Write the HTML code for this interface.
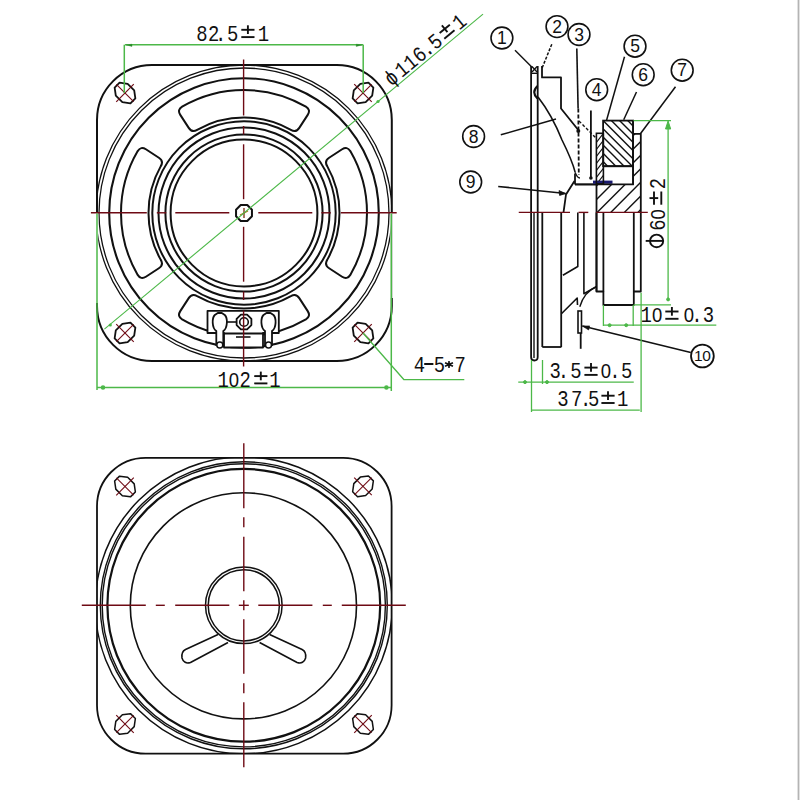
<!DOCTYPE html>
<html><head><meta charset="utf-8"><style>
html,body{margin:0;padding:0;background:#fff;}
svg{display:block;}
text{font-family:"Liberation Mono",monospace;}
</style></head><body>
<svg width="800" height="800" viewBox="0 0 800 800">
<rect width="800" height="800" fill="#fff"/>
<rect x="797.6" y="0" width="1.8" height="800" fill="#b4b4b4"/>
<path d="M152,65 H336.8 A55,55 0 0 1 391.8,120 V306 A55,55 0 0 1 336.8,361 H152 A55,55 0 0 1 97,306 V120 A55,55 0 0 1 152,65 Z" stroke="#111" stroke-width="2.0" fill="none" stroke-linejoin="round" />
<clipPath id="fr1"><path d="M152,65 H336.8 A55,55 0 0 1 391.8,120 V306 A55,55 0 0 1 336.8,361 H152 A55,55 0 0 1 97,306 V120 A55,55 0 0 1 152,65 Z"/></clipPath>
<g clip-path="url(#fr1)">
<circle cx="244.00" cy="213.00" r="148.00" stroke="#111" stroke-width="1.3" fill="none" />
<circle cx="244.00" cy="213.00" r="145.00" stroke="#111" stroke-width="1.3" fill="none" />
</g>
<circle cx="244.00" cy="213.00" r="134.80" stroke="#111" stroke-width="2.1" fill="none" />
<path d="M182.12,106.70 A123,123 0 0 1 305.88,106.70 Q310.99,109.84 307.72,114.88 L299.28,127.87 Q296.01,132.91 290.88,129.80 A95.5,95.5 0 0 0 197.12,129.80 Q191.99,132.91 188.72,127.87 L180.28,114.88 Q177.01,109.84 182.12,106.70 Z" stroke="#111" stroke-width="2.0" fill="none" stroke-linejoin="round" />
<path d="M350.30,151.12 A123,123 0 0 1 350.30,274.88 Q347.16,279.99 342.12,276.72 L329.13,268.28 Q324.09,265.01 327.20,259.88 A95.5,95.5 0 0 0 327.20,166.12 Q324.09,160.99 329.13,157.72 L342.12,149.28 Q347.16,146.01 350.30,151.12 Z" stroke="#111" stroke-width="2.0" fill="none" stroke-linejoin="round" />
<path d="M305.88,319.30 A123,123 0 0 1 182.12,319.30 Q177.01,316.16 180.28,311.12 L188.72,298.13 Q191.99,293.09 197.12,296.20 A95.5,95.5 0 0 0 290.88,296.20 Q296.01,293.09 299.28,298.13 L307.72,311.12 Q310.99,316.16 305.88,319.30 Z" stroke="#111" stroke-width="2.0" fill="none" stroke-linejoin="round" />
<path d="M137.70,274.88 A123,123 0 0 1 137.70,151.12 Q140.84,146.01 145.88,149.28 L158.87,157.72 Q163.91,160.99 160.80,166.12 A95.5,95.5 0 0 0 160.80,259.88 Q163.91,265.01 158.87,268.28 L145.88,276.72 Q140.84,279.99 137.70,274.88 Z" stroke="#111" stroke-width="2.0" fill="none" stroke-linejoin="round" />
<circle cx="244.00" cy="213.00" r="91.70" stroke="#111" stroke-width="2.0" fill="none" />
<circle cx="244.00" cy="213.00" r="85.50" stroke="#111" stroke-width="2.0" fill="none" />
<circle cx="244.00" cy="213.00" r="78.60" stroke="#111" stroke-width="2.0" fill="none" />
<circle cx="244.00" cy="213.00" r="73.40" stroke="#111" stroke-width="2.0" fill="none" />
<polygon points="251.95,216.29 247.29,220.95 240.71,220.95 236.05,216.29 236.05,209.71 240.71,205.05 247.29,205.05 251.95,209.71" stroke="#111" stroke-width="2.0" fill="#fff" stroke-linejoin="round" />
<line x1="240.00" y1="215.00" x2="248.00" y2="211.00" stroke="#c07020" stroke-width="1.3" />
<line x1="244.00" y1="208.00" x2="244.00" y2="218.00" stroke="#7a3010" stroke-width="1.3" />
<g transform="translate(125,93) rotate(45)">
<polygon points="11.18,3.47 4.63,8.38 -4.63,8.38 -11.18,3.47 -11.18,-3.47 -4.63,-8.38 4.63,-8.38 11.18,-3.47" stroke="#111" stroke-width="1.8" fill="none" stroke-linejoin="round" />
<line x1="-12.20" y1="0.00" x2="12.20" y2="0.00" stroke="#6e0a14" stroke-width="1.1" />
<line x1="0.00" y1="-12.40" x2="0.00" y2="12.40" stroke="#6e0a14" stroke-width="1.1" />
</g>
<g transform="translate(363,93) rotate(-45)">
<polygon points="11.18,3.47 4.63,8.38 -4.63,8.38 -11.18,3.47 -11.18,-3.47 -4.63,-8.38 4.63,-8.38 11.18,-3.47" stroke="#111" stroke-width="1.8" fill="none" stroke-linejoin="round" />
<line x1="-12.20" y1="0.00" x2="12.20" y2="0.00" stroke="#6e0a14" stroke-width="1.1" />
<line x1="0.00" y1="-12.40" x2="0.00" y2="12.40" stroke="#6e0a14" stroke-width="1.1" />
</g>
<g transform="translate(125,333) rotate(-45)">
<polygon points="11.18,3.47 4.63,8.38 -4.63,8.38 -11.18,3.47 -11.18,-3.47 -4.63,-8.38 4.63,-8.38 11.18,-3.47" stroke="#111" stroke-width="1.8" fill="none" stroke-linejoin="round" />
<line x1="-12.20" y1="0.00" x2="12.20" y2="0.00" stroke="#6e0a14" stroke-width="1.1" />
<line x1="0.00" y1="-12.40" x2="0.00" y2="12.40" stroke="#6e0a14" stroke-width="1.1" />
</g>
<g transform="translate(363,333) rotate(45)">
<polygon points="11.18,3.47 4.63,8.38 -4.63,8.38 -11.18,3.47 -11.18,-3.47 -4.63,-8.38 4.63,-8.38 11.18,-3.47" stroke="#111" stroke-width="1.8" fill="none" stroke-linejoin="round" />
<line x1="-12.20" y1="0.00" x2="12.20" y2="0.00" stroke="#6e0a14" stroke-width="1.1" />
<line x1="0.00" y1="-12.40" x2="0.00" y2="12.40" stroke="#6e0a14" stroke-width="1.1" />
</g>
<g>
<path d="M207.5,310.8 H278.8 V333 H263 V347.5 H224 V333 H207.5 Z" stroke="#111" stroke-width="1.8" fill="#fff" stroke-linejoin="round" />
<path d="M216.3,346 V331 C211.8,328 211.8,318 214.8,315 L217.8,313 H221.8 L224.8,315 C227.8,318 227.8,328 223.3,331 V346" stroke="#111" stroke-width="1.8" fill="#fff" stroke-linejoin="round" />
<circle cx="219.80" cy="345.00" r="3.00" stroke="#111" stroke-width="1.5" fill="#fff" />
<path d="M265.0,346 V331 C260.5,328 260.5,318 263.5,315 L266.5,313 H270.5 L273.5,315 C276.5,318 276.5,328 272.0,331 V346" stroke="#111" stroke-width="1.8" fill="#fff" stroke-linejoin="round" />
<circle cx="268.50" cy="345.00" r="3.00" stroke="#111" stroke-width="1.5" fill="#fff" />
<line x1="227.00" y1="322.00" x2="236.00" y2="322.00" stroke="#111" stroke-width="1.6" />
<polygon points="251.39,325.06 247.06,329.39 240.94,329.39 236.61,325.06 236.61,318.94 240.94,314.61 247.06,314.61 251.39,318.94" stroke="#111" stroke-width="1.8" fill="#fff" stroke-linejoin="round" />
<circle cx="244.00" cy="322.00" r="4.30" stroke="#111" stroke-width="1.6" fill="none" />
<line x1="236.00" y1="337.00" x2="250.50" y2="337.00" stroke="#111" stroke-width="1.6" />
<line x1="224.00" y1="333.50" x2="263.00" y2="333.50" stroke="#111" stroke-width="2.0" />
</g>
<line x1="258.30" y1="212.80" x2="312.30" y2="212.80" stroke="#6e0a14" stroke-width="1.4" />
<line x1="229.30" y1="212.80" x2="175.30" y2="212.80" stroke="#6e0a14" stroke-width="1.4" />
<line x1="321.30" y1="212.80" x2="330.80" y2="212.80" stroke="#6e0a14" stroke-width="1.4" />
<line x1="166.30" y1="212.80" x2="156.80" y2="212.80" stroke="#6e0a14" stroke-width="1.4" />
<line x1="340.80" y1="212.80" x2="396.70" y2="212.80" stroke="#6e0a14" stroke-width="1.4" />
<line x1="146.80" y1="212.80" x2="90.90" y2="212.80" stroke="#6e0a14" stroke-width="1.4" />
<line x1="243.60" y1="226.80" x2="243.60" y2="281.70" stroke="#6e0a14" stroke-width="1.4" />
<line x1="243.60" y1="199.20" x2="243.60" y2="144.30" stroke="#6e0a14" stroke-width="1.4" />
<line x1="243.60" y1="291.50" x2="243.60" y2="300.00" stroke="#6e0a14" stroke-width="1.4" />
<line x1="243.60" y1="134.50" x2="243.60" y2="126.00" stroke="#6e0a14" stroke-width="1.4" />
<line x1="243.60" y1="310.50" x2="243.60" y2="366.50" stroke="#6e0a14" stroke-width="1.4" />
<line x1="243.60" y1="115.50" x2="243.60" y2="59.50" stroke="#6e0a14" stroke-width="1.4" />
<line x1="125.00" y1="44.70" x2="363.20" y2="44.70" stroke="#4cb848" stroke-width="1.5" />
<path d="M126,44.9 L132,44.2 L132,46.4 Z" stroke="#2a8a2a" stroke-width="0.4" fill="#2a8a2a" stroke-linejoin="round" />
<path d="M362.2,44.9 L356.2,44.2 L356.2,46.4 Z" stroke="#2a8a2a" stroke-width="0.4" fill="#2a8a2a" stroke-linejoin="round" />
<line x1="124.30" y1="44.70" x2="124.30" y2="93.00" stroke="#4cb848" stroke-width="1.5" />
<line x1="363.20" y1="44.70" x2="363.20" y2="93.00" stroke="#4cb848" stroke-width="1.5" />
<text transform="translate(201.95,40.50) scale(0.88,1)" x="0" y="0" font-size="21.5" fill="#111" text-anchor="middle">8</text>
<text transform="translate(213.65,40.50) scale(0.88,1)" x="0" y="0" font-size="21.5" fill="#111" text-anchor="middle">2</text>
<text transform="translate(220.60,40.50) scale(0.88,1)" x="0" y="0" font-size="21.5" fill="#111" text-anchor="middle">.</text>
<text transform="translate(232.60,40.50) scale(0.88,1)" x="0" y="0" font-size="21.5" fill="#111" text-anchor="middle">5</text>
<line x1="241.30" y1="29.80" x2="254.50" y2="29.80" stroke="#111" stroke-width="1.9" />
<line x1="247.90" y1="25.30" x2="247.90" y2="34.00" stroke="#111" stroke-width="1.9" />
<line x1="241.30" y1="37.10" x2="254.50" y2="37.10" stroke="#111" stroke-width="1.9" />
<text transform="translate(263.40,40.50) scale(0.88,1)" x="0" y="0" font-size="21.5" fill="#111" text-anchor="middle">1</text>
<line x1="104.40" y1="329.15" x2="483.00" y2="14.15" stroke="#4cb848" stroke-width="1.1" />
<circle cx="110.30" cy="325.00" r="1.60" stroke="#4cb848" stroke-width="0" fill="#4cb848" />
<circle cx="378.00" cy="101.50" r="1.60" stroke="#4cb848" stroke-width="0" fill="#4cb848" />
<g transform="translate(391.8,78.6) rotate(-39.5)">
<text transform="translate(0.00,6.00) scale(0.88,1)" x="0" y="0" font-size="21.5" fill="#111" text-anchor="middle">ϕ</text>
<text transform="translate(13.50,6.00) scale(0.88,1)" x="0" y="0" font-size="21.5" fill="#111" text-anchor="middle">1</text>
<text transform="translate(25.00,6.00) scale(0.88,1)" x="0" y="0" font-size="21.5" fill="#111" text-anchor="middle">1</text>
<text transform="translate(36.50,6.00) scale(0.88,1)" x="0" y="0" font-size="21.5" fill="#111" text-anchor="middle">6</text>
<text transform="translate(46.00,6.00) scale(0.88,1)" x="0" y="0" font-size="21.5" fill="#111" text-anchor="middle">.</text>
<text transform="translate(57.00,6.00) scale(0.88,1)" x="0" y="0" font-size="21.5" fill="#111" text-anchor="middle">5</text>
<line x1="65.90" y1="-4.70" x2="79.10" y2="-4.70" stroke="#111" stroke-width="1.9" />
<line x1="72.50" y1="-9.20" x2="72.50" y2="-0.50" stroke="#111" stroke-width="1.9" />
<line x1="65.90" y1="2.60" x2="79.10" y2="2.60" stroke="#111" stroke-width="1.9" />
<text transform="translate(88.00,6.00) scale(0.88,1)" x="0" y="0" font-size="21.5" fill="#111" text-anchor="middle">1</text>
</g>
<line x1="97.00" y1="213.50" x2="97.00" y2="303.00" stroke="#fff" stroke-width="2.4" />
<line x1="97.00" y1="213.50" x2="97.00" y2="390.00" stroke="#4cb848" stroke-width="1.5" />
<line x1="391.60" y1="213.50" x2="391.60" y2="298.00" stroke="#fff" stroke-width="2.4" />
<line x1="391.30" y1="213.50" x2="391.30" y2="391.00" stroke="#4cb848" stroke-width="1.5" />
<line x1="97.00" y1="387.60" x2="391.30" y2="387.60" stroke="#4cb848" stroke-width="1.5" />
<circle cx="103.00" cy="387.60" r="1.50" stroke="#4cb848" stroke-width="1.5" fill="#4cb848" />
<circle cx="386.40" cy="387.60" r="1.50" stroke="#4cb848" stroke-width="1.5" fill="#4cb848" />
<text transform="translate(223.20,386.80) scale(0.88,1)" x="0" y="0" font-size="21.5" fill="#111" text-anchor="middle">1</text>
<text transform="translate(234.00,386.80) scale(0.95,1)" x="0" y="0" font-size="19.5" fill="#111" text-anchor="middle" style="font-family:'Liberation Sans',sans-serif">0</text>
<text transform="translate(245.30,386.80) scale(0.88,1)" x="0" y="0" font-size="21.5" fill="#111" text-anchor="middle">2</text>
<line x1="254.20" y1="376.10" x2="267.40" y2="376.10" stroke="#111" stroke-width="1.9" />
<line x1="260.80" y1="371.60" x2="260.80" y2="380.30" stroke="#111" stroke-width="1.9" />
<line x1="254.20" y1="383.40" x2="267.40" y2="383.40" stroke="#111" stroke-width="1.9" />
<text transform="translate(275.00,386.80) scale(0.88,1)" x="0" y="0" font-size="21.5" fill="#111" text-anchor="middle">1</text>
<polyline points="363.00,333.00 404.00,379.70 464.30,379.70" stroke="#4cb848" stroke-width="1.3" fill="none" stroke-linejoin="round" />
<text transform="translate(419.40,372.20) scale(0.88,1)" x="0" y="0" font-size="21.5" fill="#111" text-anchor="middle">4</text>
<text transform="translate(439.40,372.20) scale(0.88,1)" x="0" y="0" font-size="21.5" fill="#111" text-anchor="middle">5</text>
<text transform="translate(460.30,372.20) scale(0.88,1)" x="0" y="0" font-size="21.5" fill="#111" text-anchor="middle">7</text>
<line x1="424.20" y1="364.00" x2="433.40" y2="364.00" stroke="#111" stroke-width="2.0" />
<line x1="449.00" y1="360.90" x2="449.00" y2="368.10" stroke="#111" stroke-width="1.6" />
<line x1="452.98" y1="362.70" x2="445.02" y2="366.30" stroke="#111" stroke-width="1.6" />
<line x1="452.98" y1="366.30" x2="445.02" y2="362.70" stroke="#111" stroke-width="1.6" />
<circle cx="449.00" cy="364.50" r="1.90" stroke="#111" stroke-width="0" fill="#111" />
<path d="M145.5,457.8 H343.1 A48.5,48.5 0 0 1 391.6,506.3 V705.2 A48.5,48.5 0 0 1 343.1,753.7 H145.5 A48.5,48.5 0 0 1 97,705.2 V506.3 A48.5,48.5 0 0 1 145.5,457.8 Z" stroke="#111" stroke-width="1.8" fill="none" stroke-linejoin="round" />
<clipPath id="fr2"><path d="M145.5,457.8 H343.1 A48.5,48.5 0 0 1 391.6,506.3 V705.2 A48.5,48.5 0 0 1 343.1,753.7 H145.5 A48.5,48.5 0 0 1 97,705.2 V506.3 A48.5,48.5 0 0 1 145.5,457.8 Z"/></clipPath>
<g clip-path="url(#fr2)">
<circle cx="243.80" cy="605.30" r="148.50" stroke="#111" stroke-width="1.5" fill="none" />
</g>
<circle cx="243.80" cy="605.30" r="143.50" stroke="#111" stroke-width="1.4" fill="none" />
<circle cx="243.80" cy="605.30" r="141.60" stroke="#111" stroke-width="1.4" fill="none" />
<circle cx="243.80" cy="605.30" r="136.40" stroke="#111" stroke-width="2.2" fill="none" />
<circle cx="243.40" cy="605.80" r="113.10" stroke="#111" stroke-width="1.6" fill="none" />
<g transform="translate(125,486.5) rotate(45)">
<polygon points="11.18,3.47 4.63,8.38 -4.63,8.38 -11.18,3.47 -11.18,-3.47 -4.63,-8.38 4.63,-8.38 11.18,-3.47" stroke="#111" stroke-width="1.5" fill="none" stroke-linejoin="round" />
<line x1="-12.20" y1="0.00" x2="12.20" y2="0.00" stroke="#6e0a14" stroke-width="1.1" />
<line x1="0.00" y1="-12.40" x2="0.00" y2="12.40" stroke="#6e0a14" stroke-width="1.1" />
</g>
<g transform="translate(363,486.3) rotate(-45)">
<polygon points="11.18,3.47 4.63,8.38 -4.63,8.38 -11.18,3.47 -11.18,-3.47 -4.63,-8.38 4.63,-8.38 11.18,-3.47" stroke="#111" stroke-width="1.5" fill="none" stroke-linejoin="round" />
<line x1="-12.20" y1="0.00" x2="12.20" y2="0.00" stroke="#6e0a14" stroke-width="1.1" />
<line x1="0.00" y1="-12.40" x2="0.00" y2="12.40" stroke="#6e0a14" stroke-width="1.1" />
</g>
<g transform="translate(125,724) rotate(-45)">
<polygon points="11.18,3.47 4.63,8.38 -4.63,8.38 -11.18,3.47 -11.18,-3.47 -4.63,-8.38 4.63,-8.38 11.18,-3.47" stroke="#111" stroke-width="1.5" fill="none" stroke-linejoin="round" />
<line x1="-12.20" y1="0.00" x2="12.20" y2="0.00" stroke="#6e0a14" stroke-width="1.1" />
<line x1="0.00" y1="-12.40" x2="0.00" y2="12.40" stroke="#6e0a14" stroke-width="1.1" />
</g>
<g transform="translate(363,724) rotate(45)">
<polygon points="11.18,3.47 4.63,8.38 -4.63,8.38 -11.18,3.47 -11.18,-3.47 -4.63,-8.38 4.63,-8.38 11.18,-3.47" stroke="#111" stroke-width="1.5" fill="none" stroke-linejoin="round" />
<line x1="-12.20" y1="0.00" x2="12.20" y2="0.00" stroke="#6e0a14" stroke-width="1.1" />
<line x1="0.00" y1="-12.40" x2="0.00" y2="12.40" stroke="#6e0a14" stroke-width="1.1" />
</g>
<path d="M218,634.5 L185.5,649.5 Q181,652 182,658 Q184,664.5 190.5,662.5 L228,642.5" stroke="#111" stroke-width="1.6" fill="#fff" stroke-linejoin="round" />
<path d="M269.6,634.5 L302.1,649.5 Q306.6,652 305.6,658 Q303.6,664.5 297.1,662.5 L259.6,642.5" stroke="#111" stroke-width="1.6" fill="#fff" stroke-linejoin="round" />
<circle cx="243.80" cy="605.30" r="38.30" stroke="#111" stroke-width="1.5" fill="#fff" />
<circle cx="243.80" cy="605.30" r="35.60" stroke="#111" stroke-width="1.5" fill="none" />
<line x1="243.80" y1="605.30" x2="248.80" y2="605.30" stroke="#6e0a14" stroke-width="1.4" />
<line x1="243.80" y1="605.30" x2="238.80" y2="605.30" stroke="#6e0a14" stroke-width="1.4" />
<line x1="258.30" y1="605.30" x2="312.40" y2="605.30" stroke="#6e0a14" stroke-width="1.4" />
<line x1="229.30" y1="605.30" x2="175.20" y2="605.30" stroke="#6e0a14" stroke-width="1.4" />
<line x1="322.80" y1="605.30" x2="331.80" y2="605.30" stroke="#6e0a14" stroke-width="1.4" />
<line x1="164.80" y1="605.30" x2="155.80" y2="605.30" stroke="#6e0a14" stroke-width="1.4" />
<line x1="341.80" y1="605.30" x2="405.80" y2="605.30" stroke="#6e0a14" stroke-width="1.4" />
<line x1="145.80" y1="605.30" x2="81.80" y2="605.30" stroke="#6e0a14" stroke-width="1.4" />
<line x1="243.80" y1="605.30" x2="243.80" y2="610.30" stroke="#6e0a14" stroke-width="1.4" />
<line x1="243.80" y1="605.30" x2="243.80" y2="600.30" stroke="#6e0a14" stroke-width="1.4" />
<line x1="243.80" y1="619.30" x2="243.80" y2="673.80" stroke="#6e0a14" stroke-width="1.4" />
<line x1="243.80" y1="591.30" x2="243.80" y2="536.80" stroke="#6e0a14" stroke-width="1.4" />
<line x1="243.80" y1="683.30" x2="243.80" y2="693.30" stroke="#6e0a14" stroke-width="1.4" />
<line x1="243.80" y1="527.30" x2="243.80" y2="517.30" stroke="#6e0a14" stroke-width="1.4" />
<line x1="243.80" y1="702.30" x2="243.80" y2="767.30" stroke="#6e0a14" stroke-width="1.4" />
<line x1="243.80" y1="508.30" x2="243.80" y2="443.30" stroke="#6e0a14" stroke-width="1.4" />
<path d="M531.1,66 V357 Q531.1,360.5 534.3,360.5 Q537.7,360.5 537.7,357 V66" stroke="#111" stroke-width="1.8" fill="none" stroke-linejoin="round" />
<line x1="532.00" y1="66.50" x2="537.00" y2="72.00" stroke="#111" stroke-width="1.3" />
<line x1="537.00" y1="66.50" x2="532.00" y2="72.00" stroke="#111" stroke-width="1.3" />
<line x1="534.00" y1="212.40" x2="534.00" y2="358.00" stroke="#111" stroke-width="1.4" />
<line x1="531.10" y1="73.30" x2="537.90" y2="73.30" stroke="#111" stroke-width="1.4" />
<polyline points="542.00,66.00 542.00,77.40 561.00,77.40 561.00,108.50 578.50,130.30" stroke="#111" stroke-width="1.8" fill="none" stroke-linejoin="round" />
<line x1="579.00" y1="121.00" x2="596.00" y2="138.00" stroke="#111" stroke-width="1.4" stroke-dasharray="3,2"/>
<line x1="576.80" y1="48.50" x2="578.10" y2="108.50" stroke="#111" stroke-width="1.6" />
<line x1="578.30" y1="108.50" x2="578.80" y2="175.00" stroke="#111" stroke-width="1.8" stroke-dasharray="4,2"/>
<circle cx="578.30" cy="131.00" r="2.00" stroke="#111" stroke-width="0" fill="#111" />
<line x1="590.90" y1="110.40" x2="590.90" y2="178.00" stroke="#111" stroke-width="1.8" />
<circle cx="590.90" cy="178.00" r="1.80" stroke="#111" stroke-width="0" fill="#111" />
<path d="M537.5,86 Q531,92 537.5,98.5" stroke="#111" stroke-width="2.2" fill="none" stroke-linejoin="round" />
<path d="M538,97 Q552,115 562,140 Q572,160 575.2,172.4" stroke="#111" stroke-width="1.6" fill="none" stroke-linejoin="round" />
<path d="M575.2,172.4 Q577,178 580,178" stroke="#111" stroke-width="1.4" fill="none" stroke-linejoin="round" />
<line x1="575.00" y1="173.50" x2="575.00" y2="184.40" stroke="#111" stroke-width="1.8" />
<line x1="575.00" y1="184.40" x2="596.50" y2="184.40" stroke="#111" stroke-width="2.2" />
<rect x="593" y="180.6" width="19.5" height="3.2" fill="#1a1a70"/>
<rect x="596.4" y="133.3" width="7" height="50.5" fill="none" stroke="#111" stroke-width="1.6"/>
<clipPath id="mg"><rect x="603.1" y="120.6" width="30" height="45.6"/></clipPath>
<g clip-path="url(#mg)">
<line x1="537.50" y1="120.60" x2="583.10" y2="166.20" stroke="#111" stroke-width="1.4" />
<line x1="545.70" y1="120.60" x2="591.30" y2="166.20" stroke="#111" stroke-width="1.4" />
<line x1="553.90" y1="120.60" x2="599.50" y2="166.20" stroke="#111" stroke-width="1.4" />
<line x1="562.10" y1="120.60" x2="607.70" y2="166.20" stroke="#111" stroke-width="1.4" />
<line x1="570.30" y1="120.60" x2="615.90" y2="166.20" stroke="#111" stroke-width="1.4" />
<line x1="578.50" y1="120.60" x2="624.10" y2="166.20" stroke="#111" stroke-width="1.4" />
<line x1="586.70" y1="120.60" x2="632.30" y2="166.20" stroke="#111" stroke-width="1.4" />
<line x1="594.90" y1="120.60" x2="640.50" y2="166.20" stroke="#111" stroke-width="1.4" />
<line x1="603.10" y1="120.60" x2="648.70" y2="166.20" stroke="#111" stroke-width="1.4" />
<line x1="611.30" y1="120.60" x2="656.90" y2="166.20" stroke="#111" stroke-width="1.4" />
<line x1="619.50" y1="120.60" x2="665.10" y2="166.20" stroke="#111" stroke-width="1.4" />
<line x1="627.70" y1="120.60" x2="673.30" y2="166.20" stroke="#111" stroke-width="1.4" />
<line x1="635.90" y1="120.60" x2="681.50" y2="166.20" stroke="#111" stroke-width="1.4" />
<line x1="644.10" y1="120.60" x2="689.70" y2="166.20" stroke="#111" stroke-width="1.4" />
</g>
<rect x="603.1" y="120.6" width="30" height="45.6" fill="none" stroke="#111" stroke-width="1.8"/>
<clipPath id="tp"><rect x="596.4" y="133.3" width="7" height="48"/></clipPath>
<g clip-path="url(#tp)">
<line x1="596.40" y1="142.30" x2="603.40" y2="133.30" stroke="#111" stroke-width="1.1" />
<line x1="596.40" y1="149.30" x2="603.40" y2="140.30" stroke="#111" stroke-width="1.1" />
<line x1="596.40" y1="156.30" x2="603.40" y2="147.30" stroke="#111" stroke-width="1.1" />
<line x1="596.40" y1="163.30" x2="603.40" y2="154.30" stroke="#111" stroke-width="1.1" />
<line x1="596.40" y1="170.30" x2="603.40" y2="161.30" stroke="#111" stroke-width="1.1" />
<line x1="596.40" y1="177.30" x2="603.40" y2="168.30" stroke="#111" stroke-width="1.1" />
<line x1="596.40" y1="184.30" x2="603.40" y2="175.30" stroke="#111" stroke-width="1.1" />
<line x1="596.40" y1="191.30" x2="603.40" y2="182.30" stroke="#111" stroke-width="1.1" />
</g>
<path d="M633.1,133.8 H640.8 V291.5 H633.8 V305 H603.4 V291.5 H596.5 V184.4 H633.1 Z" stroke="#111" stroke-width="1.8" fill="none" stroke-linejoin="round" />
<line x1="603.10" y1="166.20" x2="633.10" y2="166.20" stroke="#111" stroke-width="1.8" />
<line x1="633.10" y1="120.60" x2="633.10" y2="184.40" stroke="#111" stroke-width="1.8" />
<clipPath id="yk"><path d="M633.1,133.8 H640.8 V212.4 H596.5 V184.4 H633.1 Z"/></clipPath>
<g clip-path="url(#yk)">
<line x1="515.50" y1="212.40" x2="600.50" y2="127.40" stroke="#111" stroke-width="1.4" />
<line x1="529.10" y1="212.40" x2="614.10" y2="127.40" stroke="#111" stroke-width="1.4" />
<line x1="542.70" y1="212.40" x2="627.70" y2="127.40" stroke="#111" stroke-width="1.4" />
<line x1="556.30" y1="212.40" x2="641.30" y2="127.40" stroke="#111" stroke-width="1.4" />
<line x1="569.90" y1="212.40" x2="654.90" y2="127.40" stroke="#111" stroke-width="1.4" />
<line x1="583.50" y1="212.40" x2="668.50" y2="127.40" stroke="#111" stroke-width="1.4" />
<line x1="597.10" y1="212.40" x2="682.10" y2="127.40" stroke="#111" stroke-width="1.4" />
<line x1="610.70" y1="212.40" x2="695.70" y2="127.40" stroke="#111" stroke-width="1.4" />
<line x1="624.30" y1="212.40" x2="709.30" y2="127.40" stroke="#111" stroke-width="1.4" />
<line x1="637.90" y1="212.40" x2="722.90" y2="127.40" stroke="#111" stroke-width="1.4" />
<line x1="651.50" y1="212.40" x2="736.50" y2="127.40" stroke="#111" stroke-width="1.4" />
<line x1="665.10" y1="212.40" x2="750.10" y2="127.40" stroke="#111" stroke-width="1.4" />
<line x1="678.70" y1="212.40" x2="763.70" y2="127.40" stroke="#111" stroke-width="1.4" />
<line x1="692.30" y1="212.40" x2="777.30" y2="127.40" stroke="#111" stroke-width="1.4" />
</g>
<line x1="596.50" y1="212.40" x2="596.50" y2="291.50" stroke="#111" stroke-width="1.8" />
<line x1="603.40" y1="212.40" x2="603.40" y2="291.50" stroke="#111" stroke-width="1.8" />
<line x1="633.80" y1="212.40" x2="633.80" y2="291.50" stroke="#111" stroke-width="1.8" />
<line x1="542.30" y1="212.40" x2="542.30" y2="347.00" stroke="#111" stroke-width="1.8" />
<line x1="542.30" y1="347.00" x2="561.40" y2="347.00" stroke="#111" stroke-width="1.8" />
<line x1="561.20" y1="108.50" x2="561.20" y2="347.00" stroke="#111" stroke-width="0" />
<line x1="561.20" y1="212.40" x2="561.20" y2="347.00" stroke="#111" stroke-width="1.8" />
<polyline points="577.80,212.40 577.80,266.50 562.90,275.30" stroke="#111" stroke-width="1.6" fill="none" stroke-linejoin="round" />
<polyline points="583.90,212.40 583.90,293.70 596.20,286.70" stroke="#111" stroke-width="1.6" fill="none" stroke-linejoin="round" />
<polyline points="561.40,313.80 577.20,298.00 577.50,305.00" stroke="#111" stroke-width="1.6" fill="none" stroke-linejoin="round" />
<path d="M579.8,306.8 Q584,292 596.4,286.6" stroke="#111" stroke-width="1.4" fill="none" stroke-linejoin="round" />
<rect x="578" y="311" width="3.5" height="22" fill="none" stroke="#111" stroke-width="1.6"/>
<line x1="580.70" y1="333.00" x2="580.70" y2="348.80" stroke="#111" stroke-width="1.8" />
<polyline points="574.50,181.00 566.00,194.50 563.50,212.40" stroke="#111" stroke-width="1.8" fill="none" stroke-linejoin="round" />
<path d="M565.6,193.6 L559,190.6 L559.6,195.4 Z" stroke="#111" stroke-width="0.8" fill="#111" stroke-linejoin="round" />
<line x1="518.75" y1="212.40" x2="570.00" y2="212.40" stroke="#6e0a14" stroke-width="1.4" />
<line x1="578.50" y1="212.40" x2="588.30" y2="212.40" stroke="#6e0a14" stroke-width="1.4" />
<line x1="596.20" y1="212.40" x2="647.80" y2="212.40" stroke="#6e0a14" stroke-width="1.4" />
<circle cx="501.90" cy="38.00" r="10.90" stroke="#111" stroke-width="1.6" fill="#fff" />
<text x="501.90" y="44.20" font-size="17.5" fill="#111" text-anchor="middle" style="font-family:'Liberation Sans',sans-serif">1</text>
<circle cx="557.00" cy="26.60" r="10.90" stroke="#111" stroke-width="1.6" fill="#fff" />
<text x="557.00" y="32.80" font-size="17.5" fill="#111" text-anchor="middle" style="font-family:'Liberation Sans',sans-serif">2</text>
<circle cx="579.00" cy="34.50" r="10.90" stroke="#111" stroke-width="1.6" fill="#fff" />
<text x="579.00" y="40.70" font-size="17.5" fill="#111" text-anchor="middle" style="font-family:'Liberation Sans',sans-serif">3</text>
<circle cx="596.70" cy="89.70" r="10.90" stroke="#111" stroke-width="1.6" fill="#fff" />
<text x="596.70" y="95.90" font-size="17.5" fill="#111" text-anchor="middle" style="font-family:'Liberation Sans',sans-serif">4</text>
<circle cx="635.00" cy="46.20" r="10.90" stroke="#111" stroke-width="1.6" fill="#fff" />
<text x="635.00" y="52.40" font-size="17.5" fill="#111" text-anchor="middle" style="font-family:'Liberation Sans',sans-serif">5</text>
<circle cx="643.20" cy="74.70" r="10.90" stroke="#111" stroke-width="1.6" fill="#fff" />
<text x="643.20" y="80.90" font-size="17.5" fill="#111" text-anchor="middle" style="font-family:'Liberation Sans',sans-serif">6</text>
<circle cx="682.20" cy="70.20" r="10.90" stroke="#111" stroke-width="1.6" fill="#fff" />
<text x="682.20" y="76.40" font-size="17.5" fill="#111" text-anchor="middle" style="font-family:'Liberation Sans',sans-serif">7</text>
<circle cx="473.60" cy="136.50" r="10.90" stroke="#111" stroke-width="1.6" fill="#fff" />
<text x="473.60" y="142.70" font-size="17.5" fill="#111" text-anchor="middle" style="font-family:'Liberation Sans',sans-serif">8</text>
<circle cx="470.70" cy="182.00" r="10.90" stroke="#111" stroke-width="1.6" fill="#fff" />
<text x="470.70" y="188.20" font-size="17.5" fill="#111" text-anchor="middle" style="font-family:'Liberation Sans',sans-serif">9</text>
<circle cx="702.40" cy="356.00" r="11.40" stroke="#111" stroke-width="1.8" fill="#fff" />
<text x="698.2" y="361.3" font-size="15.5" fill="#111" text-anchor="middle" style="font-family:'Liberation Sans',sans-serif">1</text>
<text x="706.6" y="361.3" font-size="15.5" fill="#111" text-anchor="middle" style="font-family:'Liberation Sans',sans-serif">0</text>
<line x1="515.00" y1="50.30" x2="532.50" y2="67.80" stroke="#111" stroke-width="1.5" />
<line x1="551.80" y1="44.20" x2="542.20" y2="67.80" stroke="#111" stroke-width="1.5" stroke-dasharray="3,1.5"/>
<line x1="624.50" y1="56.70" x2="606.50" y2="120.50" stroke="#111" stroke-width="1.5" />
<line x1="636.50" y1="92.00" x2="623.70" y2="119.70" stroke="#111" stroke-width="1.5" />
<line x1="675.50" y1="86.70" x2="640.20" y2="134.00" stroke="#111" stroke-width="1.5" />
<line x1="500.80" y1="134.80" x2="556.00" y2="119.00" stroke="#111" stroke-width="1.5" />
<line x1="498.20" y1="186.40" x2="565.60" y2="193.40" stroke="#111" stroke-width="1.5" />
<line x1="582.40" y1="326.00" x2="690.80" y2="352.50" stroke="#111" stroke-width="1.6" />
<path d="M582.4,326 L589.6,325.9 L588.6,330 Z" stroke="#111" stroke-width="0.6" fill="#111" stroke-linejoin="round" />
<line x1="633.50" y1="120.60" x2="671.00" y2="120.60" stroke="#4cb848" stroke-width="1.3" />
<line x1="633.80" y1="304.90" x2="671.00" y2="304.90" stroke="#4cb848" stroke-width="1.3" />
<line x1="668.10" y1="124.00" x2="668.10" y2="299.40" stroke="#4cb848" stroke-width="1.3" />
<path d="M668.1,121 L665.5,129 L670.7,129 Z" stroke="#4cb848" stroke-width="1" fill="#4cb848" stroke-linejoin="round" />
<circle cx="668.10" cy="299.40" r="1.50" stroke="#4cb848" stroke-width="1" fill="#4cb848" />
<g transform="translate(656.7,240.9) rotate(-90)">
<text transform="translate(15.80,8.00) scale(0.88,1)" x="0" y="0" font-size="21.5" fill="#111" text-anchor="middle">6</text>
<text transform="translate(26.50,8.00) scale(0.95,1)" x="0" y="0" font-size="19.5" fill="#111" text-anchor="middle" style="font-family:'Liberation Sans',sans-serif">0</text>
<line x1="36.20" y1="-2.70" x2="49.40" y2="-2.70" stroke="#111" stroke-width="1.9" />
<line x1="42.80" y1="-7.20" x2="42.80" y2="1.50" stroke="#111" stroke-width="1.9" />
<line x1="36.20" y1="4.60" x2="49.40" y2="4.60" stroke="#111" stroke-width="1.9" />
<text transform="translate(57.40,8.00) scale(0.88,1)" x="0" y="0" font-size="21.5" fill="#111" text-anchor="middle">2</text>
</g>
<ellipse cx="656.6" cy="240.9" rx="6.6" ry="6.3" stroke="#111" stroke-width="1.9" fill="none"/>
<line x1="645.70" y1="240.90" x2="663.90" y2="240.90" stroke="#111" stroke-width="1.9" />
<line x1="603.40" y1="305.00" x2="603.40" y2="326.00" stroke="#4cb848" stroke-width="1.3" />
<line x1="633.20" y1="305.00" x2="633.20" y2="326.00" stroke="#4cb848" stroke-width="1.3" />
<line x1="603.40" y1="325.20" x2="716.30" y2="325.20" stroke="#4cb848" stroke-width="1.3" />
<circle cx="609.60" cy="325.20" r="1.50" stroke="#4cb848" stroke-width="1" fill="#4cb848" />
<circle cx="626.20" cy="325.20" r="1.50" stroke="#4cb848" stroke-width="1" fill="#4cb848" />
<text transform="translate(646.20,322.20) scale(0.88,1)" x="0" y="0" font-size="21.5" fill="#111" text-anchor="middle">1</text>
<text transform="translate(657.20,322.20) scale(0.95,1)" x="0" y="0" font-size="19.5" fill="#111" text-anchor="middle" style="font-family:'Liberation Sans',sans-serif">0</text>
<line x1="665.30" y1="311.50" x2="678.50" y2="311.50" stroke="#111" stroke-width="1.9" />
<line x1="671.90" y1="307.00" x2="671.90" y2="315.70" stroke="#111" stroke-width="1.9" />
<line x1="665.30" y1="318.80" x2="678.50" y2="318.80" stroke="#111" stroke-width="1.9" />
<text transform="translate(688.80,322.20) scale(0.95,1)" x="0" y="0" font-size="19.5" fill="#111" text-anchor="middle" style="font-family:'Liberation Sans',sans-serif">0</text>
<text transform="translate(697.00,322.20) scale(0.88,1)" x="0" y="0" font-size="21.5" fill="#111" text-anchor="middle">.</text>
<text transform="translate(708.40,322.20) scale(0.88,1)" x="0" y="0" font-size="21.5" fill="#111" text-anchor="middle">3</text>
<line x1="641.10" y1="292.80" x2="641.10" y2="412.00" stroke="#4cb848" stroke-width="1.3" />
<line x1="531.50" y1="360.00" x2="531.50" y2="412.00" stroke="#4cb848" stroke-width="1.3" />
<line x1="542.50" y1="360.00" x2="542.50" y2="384.00" stroke="#4cb848" stroke-width="1.3" />
<line x1="518.25" y1="382.10" x2="633.75" y2="382.10" stroke="#4cb848" stroke-width="1.3" />
<circle cx="525.00" cy="382.10" r="1.50" stroke="#4cb848" stroke-width="1" fill="#4cb848" />
<circle cx="547.00" cy="382.10" r="1.50" stroke="#4cb848" stroke-width="1" fill="#4cb848" />
<text transform="translate(555.30,378.30) scale(0.88,1)" x="0" y="0" font-size="21.5" fill="#111" text-anchor="middle">3</text>
<text transform="translate(563.50,378.30) scale(0.88,1)" x="0" y="0" font-size="21.5" fill="#111" text-anchor="middle">.</text>
<text transform="translate(576.00,378.30) scale(0.88,1)" x="0" y="0" font-size="21.5" fill="#111" text-anchor="middle">5</text>
<line x1="584.40" y1="367.60" x2="597.60" y2="367.60" stroke="#111" stroke-width="1.9" />
<line x1="591.00" y1="363.10" x2="591.00" y2="371.80" stroke="#111" stroke-width="1.9" />
<line x1="584.40" y1="374.90" x2="597.60" y2="374.90" stroke="#111" stroke-width="1.9" />
<text transform="translate(606.00,378.30) scale(0.95,1)" x="0" y="0" font-size="19.5" fill="#111" text-anchor="middle" style="font-family:'Liberation Sans',sans-serif">0</text>
<text transform="translate(615.00,378.30) scale(0.88,1)" x="0" y="0" font-size="21.5" fill="#111" text-anchor="middle">.</text>
<text transform="translate(626.60,378.30) scale(0.88,1)" x="0" y="0" font-size="21.5" fill="#111" text-anchor="middle">5</text>
<line x1="531.50" y1="410.20" x2="639.80" y2="410.20" stroke="#4cb848" stroke-width="1.3" />
<text transform="translate(563.00,406.40) scale(0.88,1)" x="0" y="0" font-size="21.5" fill="#111" text-anchor="middle">3</text>
<text transform="translate(576.60,406.40) scale(0.88,1)" x="0" y="0" font-size="21.5" fill="#111" text-anchor="middle">7</text>
<text transform="translate(585.60,406.40) scale(0.88,1)" x="0" y="0" font-size="21.5" fill="#111" text-anchor="middle">.</text>
<text transform="translate(593.75,406.40) scale(0.88,1)" x="0" y="0" font-size="21.5" fill="#111" text-anchor="middle">5</text>
<line x1="601.40" y1="395.70" x2="614.60" y2="395.70" stroke="#111" stroke-width="1.9" />
<line x1="608.00" y1="391.20" x2="608.00" y2="399.90" stroke="#111" stroke-width="1.9" />
<line x1="601.40" y1="403.00" x2="614.60" y2="403.00" stroke="#111" stroke-width="1.9" />
<text transform="translate(622.80,406.40) scale(0.88,1)" x="0" y="0" font-size="21.5" fill="#111" text-anchor="middle">1</text>
</svg></body></html>
